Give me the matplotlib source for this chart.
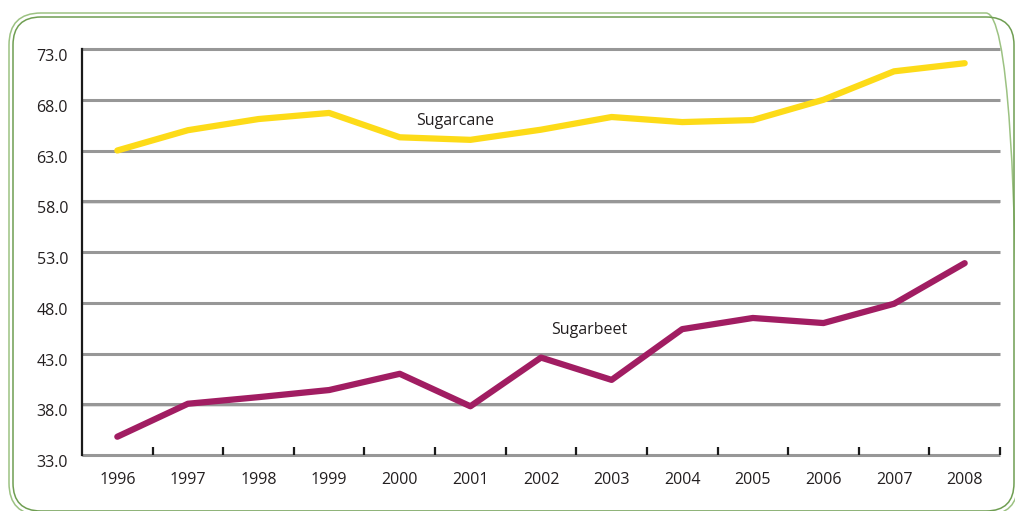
import matplotlib
matplotlib.use("Agg")
import matplotlib.pyplot as plt
from matplotlib.patches import FancyBboxPatch
from matplotlib.transforms import IdentityTransform

years = ["1996", "1997", "1998", "1999", "2000", "2001", "2002",
         "2003", "2004", "2005", "2006", "2007", "2008"]
sugarcane = [63.0, 65.0, 66.1, 66.7, 64.3, 64.05, 65.05, 66.3, 65.8, 66.0, 68.0, 70.8, 71.6]
sugarbeet = [34.8, 38.05, 38.7, 39.4, 41.0, 37.8, 42.6, 40.4, 45.4, 46.5, 46.0, 47.9, 51.9]
yticks = [33.0, 38.0, 43.0, 48.0, 53.0, 58.0, 63.0, 68.0, 73.0]

plt.rcParams['font.family'] = ['Open Sans', 'DejaVu Sans']
W, H = 1015, 511
FS = 11.5
fig = plt.figure(figsize=(W / 100, H / 100), dpi=100)
fig.patch.set_facecolor('white')

# rounded double frame (pixel coordinates, origin bottom-left)
def frame(left, top, right, bottom, r, color):
    p = FancyBboxPatch((left, H - bottom), right - left, bottom - top,
                       boxstyle=f"round,pad=0,rounding_size={r}",
                       transform=IdentityTransform(), fill=False,
                       edgecolor=color, linewidth=1.1)
    fig.patches.append(p)

frame(9, 13, 1018, 515, 32, '#9cc282')
frame(13, 17, 1014, 511, 28, '#6f9e52')

ax = fig.add_axes([82 / W, 1 - 455 / H, (1000 - 82) / W, (455 - 49) / H])
ax.set_facecolor('none')
x = list(range(len(years)))

# gridlines with faint shadow
for yv in yticks:
    ax.plot([-0.5, 12.5], [yv - 0.13, yv - 0.13], color='#d9d9d9', lw=1.2,
            zorder=1, solid_capstyle='butt', clip_on=False)
    ax.plot([-0.5, 12.5], [yv, yv], color='#979797', lw=2.2,
            zorder=1.5, solid_capstyle='butt', clip_on=False)

ax.plot(x, sugarcane, color='#FDDB18', lw=4.5, solid_capstyle='round',
        solid_joinstyle='round', zorder=3)
ax.plot(x, sugarbeet, color='#A11D62', lw=4.5, solid_capstyle='round',
        solid_joinstyle='round', zorder=3)

ax.text(4.78, 65.9, "Sugarcane", fontsize=FS, color='#231f20',
        ha='center', va='center')
ax.text(6.68, 45.3, "Sugarbeet", fontsize=FS, color='#231f20',
        ha='center', va='center')

ax.set_xlim(-0.5, 12.5)
ax.set_ylim(33, 73)

for s in ['top', 'right', 'bottom']:
    ax.spines[s].set_visible(False)
ax.spines['left'].set_color('#1a1a1a')
ax.spines['left'].set_linewidth(1.6)
ax.spines['left'].set_zorder(4)

ax.set_xticks(x)
ax.set_xticklabels(years)
ax.set_xticks([i + 0.5 for i in range(len(years))], minor=True)
ax.tick_params(axis='x', which='major', length=0, pad=12, labelsize=FS,
               labelcolor='#231f20')
ax.tick_params(axis='x', which='minor', direction='in', length=6, width=1.6,
               color='#1a1a1a')

ax.set_yticks(yticks)
ax.set_yticklabels([f"{v:.1f}" for v in yticks])
ax.tick_params(axis='y', which='both', length=0, pad=10, labelsize=FS,
               labelcolor='#231f20')
for lbl in ax.get_yticklabels():
    lbl.set_va('top')

fig.savefig('out.png', dpi=100)
